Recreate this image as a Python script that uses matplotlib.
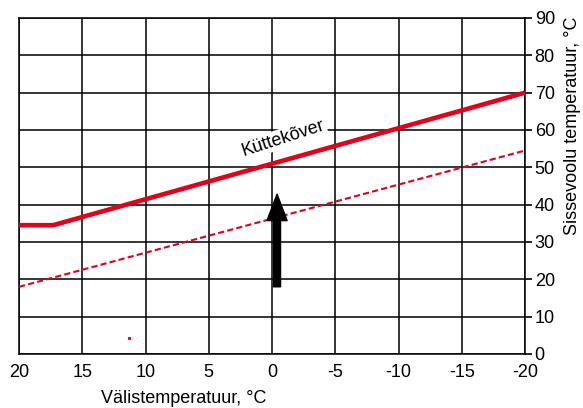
import matplotlib
matplotlib.use("Agg")
import matplotlib.pyplot as plt

plt.rcParams['font.family'] = ['Liberation Sans', 'DejaVu Sans']

# Data
x_ticks = [20, 15, 10, 5, 0, -5, -10, -15, -20]
x_tick_labels = ["20", "15", "10", "5", "0", "-5", "-10", "-15", "-20"]
y_ticks = [0, 10, 20, 30, 40, 50, 60, 70, 80, 90]
y_tick_labels = [str(v) for v in y_ticks]

heat_x = [20, 17.3, -20]
heat_y = [34.5, 34.5, 70]
shift_x = [20, -20]
shift_y = [18, 54.5]
arrow_x = -0.4
arrow_y = [18, 42.8]
dot_x = [11.3]
dot_y = [4.3]

curve_label = "Küttekõver"
x_label = "Välistemperatuur, °C"
y_label = "Sissevoolu temperatuur, °C"

RED = "#e2001a"

fig = plt.figure(figsize=(5.83, 4.08), dpi=100)
ax = fig.add_axes([19/583, 1 - 354/408, (525-19)/583, (354-18)/408])

ax.set_xlim(20, -20)
ax.set_ylim(0, 90)

ax.set_xticks(x_ticks)
ax.set_xticklabels(x_tick_labels)
ax.set_yticks(y_ticks)
ax.set_yticklabels(y_tick_labels)

ax.yaxis.tick_right()
ax.yaxis.set_label_position("right")
ax.tick_params(axis='y', direction='out', length=5, width=1.2, color='black',
               labelsize=13, pad=2)
ax.tick_params(axis='x', length=0, labelsize=13, pad=7)

ax.grid(True, color='black', linewidth=1.1)
ax.set_axisbelow(True)
for s in ax.spines.values():
    s.set_color('black')
    s.set_linewidth(1.1)

ax.plot(shift_x, shift_y, color=RED, linewidth=1.5, dashes=(3, 1.5), zorder=3)
ax.plot(heat_x, heat_y, color=RED, linewidth=3.3, solid_capstyle='butt', zorder=4)
ax.plot(dot_x, dot_y, marker='s', markersize=1.2, color=RED, linestyle='none')

ax.annotate('', xy=(arrow_x, arrow_y[1]), xytext=(arrow_x, arrow_y[0]),
            arrowprops=dict(arrowstyle="simple,head_length=19,head_width=14.5,tail_width=5",
                            mutation_scale=1, color='black', shrinkA=0, shrinkB=0),
            zorder=5)

ax.text(-0.9, 57.8, curve_label, rotation=18, ha='center', va='center', fontsize=13,
        bbox=dict(facecolor='white', edgecolor='none', pad=1), zorder=4)

ax.set_xlabel(x_label, fontsize=13, va='center')
ax.xaxis.set_label_coords(0.326, -0.131)
ax.set_ylabel(y_label, fontsize=13, va='center', rotation=90)
ax.yaxis.set_label_coords(1.093, 0.68)

fig.savefig("out.png", dpi=100)
